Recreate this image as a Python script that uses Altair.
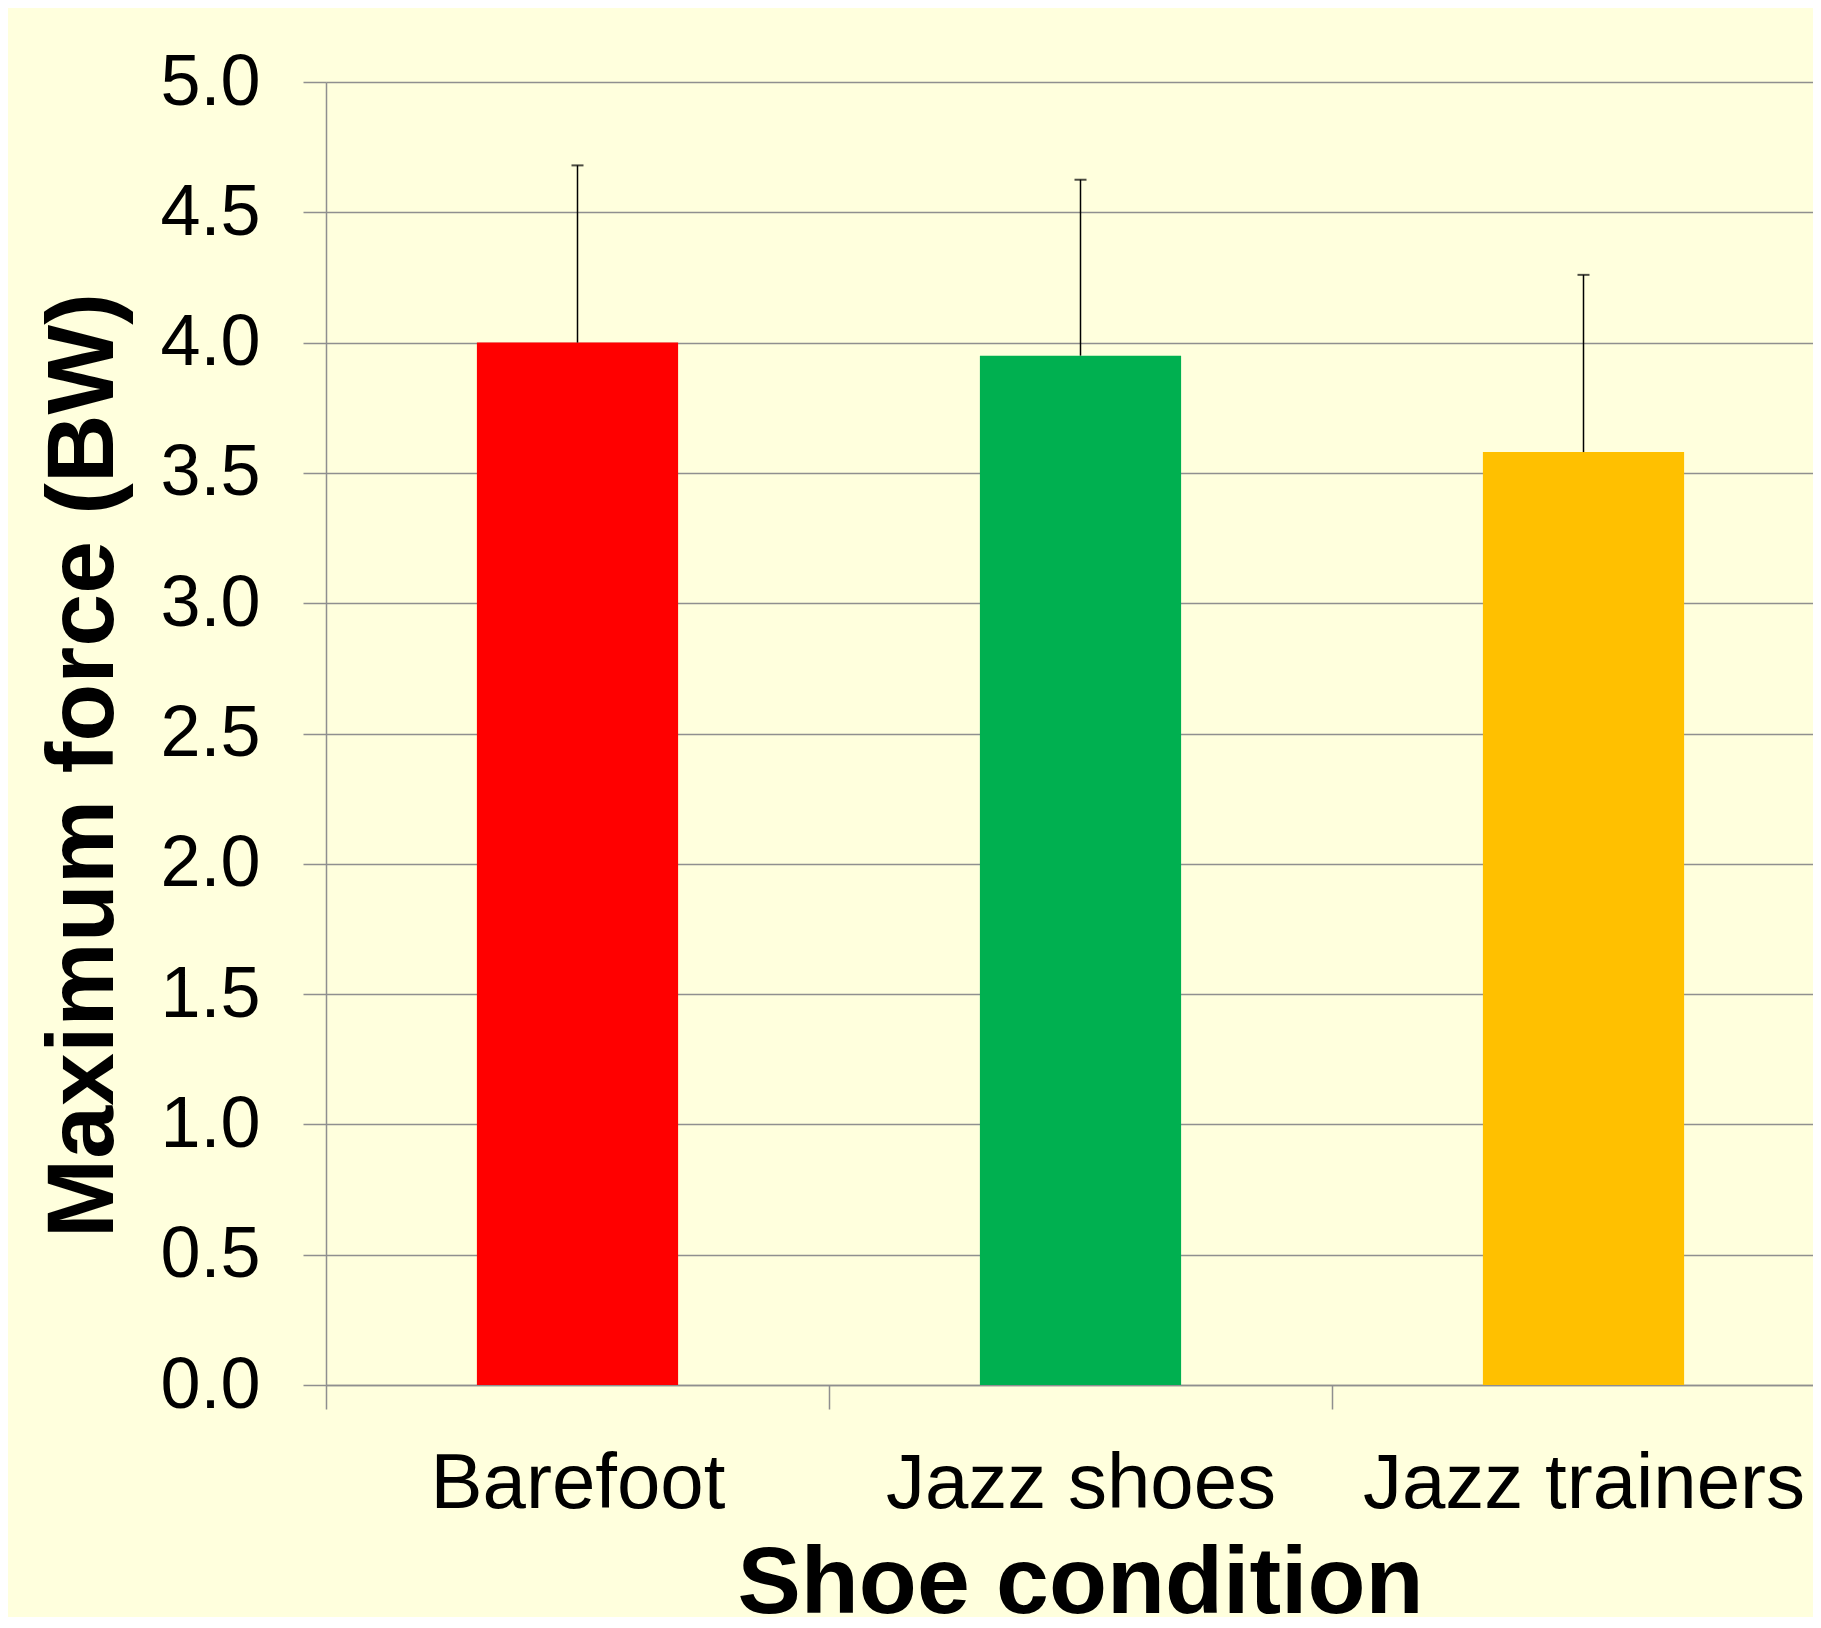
import altair as alt
import pandas as pd

# Data
conditions = ["Barefoot", "Jazz shoes", "Jazz trainers"]
mean_force = [4.00, 3.95, 3.58]
sd_force = [0.68, 0.675, 0.68]

bar_colors = ["#FF0000", "#00B050", "#FFC000"]
y_ticks = [0.0, 0.5, 1.0, 1.5, 2.0, 2.5, 3.0, 3.5, 4.0, 4.5, 5.0]

df = pd.DataFrame({
    "condition": conditions,
    "mean": mean_force,
    "sd": sd_force,
})
df["upper"] = df["mean"] + df["sd"]

FONT = "Liberation Sans, Arial, Helvetica, sans-serif"
GRID = "#8f8f8f"
BG = "#FFFFDD"

x_scale = alt.Scale(paddingInner=0, paddingOuter=0, range=[0, 1509])

x_enc = alt.X(
    "condition:N",
    sort=conditions,
    scale=x_scale,
    axis=alt.Axis(
        title="Shoe condition",
        labelAngle=0,
        labelFont=FONT,
        labelFontSize=78,
        labelColor="black",
        labelBaseline="alphabetic",
        labelPadding=98,
        labelLimit=1000,
        tickBand="extent",
        tickSize=24,
        tickColor=GRID,
        tickWidth=1.5,
        domainColor=GRID,
        domainWidth=1.5,
        grid=False,
        titleFont=FONT,
        titleFontSize=95,
        titleFontWeight="bold",
        titleColor="black",
        titleBaseline="alphabetic",
        titleAlign="center",
        titleX=754,
        titleY=227,
    ),
)

y_scale = alt.Scale(domain=[0, 5], nice=False, zero=True)
y_axis = alt.Axis(
    title="Maximum force (BW)",
    values=y_ticks,
    format=".1f",
    labelFont=FONT,
    labelFontSize=72,
    labelColor="black",
    labelPadding=43,
    labelBaseline="middle",
    tickSize=23,
    tickColor=GRID,
    tickWidth=1.5,
    domainColor=GRID,
    domainWidth=1.5,
    grid=True,
    gridColor=GRID,
    gridWidth=1.5,
    titleFont=FONT,
    titleFontSize=95,
    titleFontWeight="bold",
    titleColor="black",
    titleAngle=270,
    titleBaseline="alphabetic",
    titleAlign="center",
    titleX=-214,
    titleY=683,
)

bars = alt.Chart(df).mark_bar(width=alt.RelativeBandSize(0.4)).encode(
    x=x_enc,
    y=alt.Y("mean:Q", scale=y_scale, axis=y_axis),
    color=alt.Color(
        "condition:N",
        scale=alt.Scale(domain=conditions, range=bar_colors),
        legend=None,
    ),
)

err = alt.Chart(df).mark_rule(color="black", strokeWidth=1.5).encode(
    x=alt.X("condition:N", sort=conditions, scale=x_scale),
    y=alt.Y("mean:Q", scale=y_scale),
    y2="upper:Q",
)

caps = alt.Chart(df).mark_tick(color="black", size=12, thickness=2).encode(
    x=alt.X("condition:N", sort=conditions, scale=x_scale),
    y=alt.Y("upper:Q", scale=y_scale),
)

chart = (
    alt.layer(bars, err, caps)
    .properties(
        width=1487,
        height=1303,
        background=BG,
        autosize=alt.AutoSizeParams(type="none"),
        padding={"left": 318, "top": 74, "right": 0, "bottom": 232},
    )
    .configure_view(strokeOpacity=0)
)

chart.save("out.html", embed_options={"renderer": "svg", "actions": False})
